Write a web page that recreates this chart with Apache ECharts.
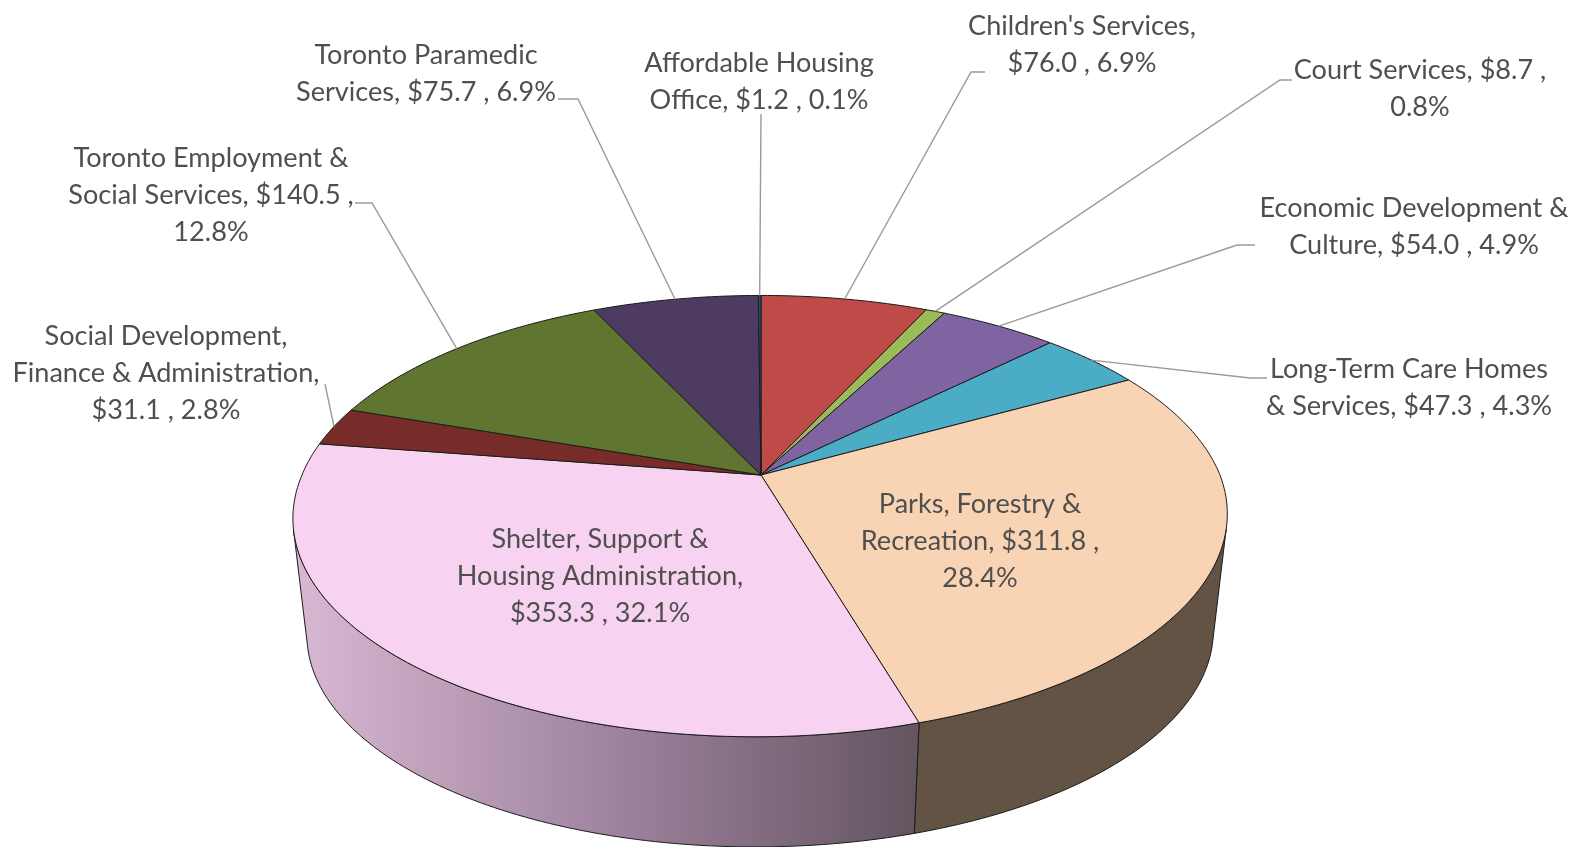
<!DOCTYPE html>
<html lang="en">
<head>
    <meta charset="UTF-8">
    <title>Toronto budget pie</title>
    <script src="https://cdn.jsdelivr.net/npm/echarts@6/dist/echarts.min.js"></script>
    <style>
        html, body { margin: 0; padding: 0; background: #fff; }
        /* the source picture is a soft upscaled screenshot */
        #chart { width: 1577px; height: 847px; filter: blur(0.6px); }
    </style>
</head>
<body>
    <div id="chart"></div>
    <script>
        // data, clockwise from 12 o'clock
        const categories = ["Children's Services", 'Court Services', 'Economic Development & Culture',
            'Long-Term Care Homes & Services', 'Parks, Forestry & Recreation', 'Shelter, Support & Housing Administration',
            'Social Development, Finance & Administration', 'Toronto Employment & Social Services',
            'Toronto Paramedic Services', 'Affordable Housing Office'];
        const values = [76.0, 8.7, 54.0, 47.3, 311.8, 353.3, 31.1, 140.5, 75.7, 1.2];
        const labelTexts = [
            "Children's Services,\n$76.0 , 6.9%",
            'Court Services, $8.7 ,\n0.8%',
            'Economic Development &\nCulture, $54.0 , 4.9%',
            'Long-Term Care Homes\n& Services, $47.3 , 4.3%',
            'Parks, Forestry &\nRecreation, $311.8 ,\n28.4%',
            'Shelter, Support &\nHousing Administration,\n$353.3 , 32.1%',
            'Social Development,\nFinance & Administration,\n$31.1 , 2.8%',
            'Toronto Employment &\nSocial Services, $140.5 ,\n12.8%',
            'Toronto Paramedic\nServices, $75.7 , 6.9%',
            'Affordable Housing\nOffice, $1.2 , 0.1%'
        ];
        const colors = ['#BE4B48', '#9BBB59', '#8064A2', '#4BACC6', '#F8D4B5', '#F8D3F1', '#772C2A', '#5F7530', '#4D3B62', '#2C4D75'];

        // label centres and the elbow points of the leader lines
        const labelPos = [[1082, 44.5], [1420, 89], [1414, 226.5], [1409, 387.5], [980, 541], [600, 576], [166, 373.5], [211, 195.5], [426, 73.5], [759, 81.5]];
        const leaderPos = [
            [[985, 72], [971, 72]],
            [[1292, 80], [1280, 80]],
            [[1255, 245], [1237, 245]],
            [[1267, 378], [1250, 378]],
            null,
            null,
            [[325, 384]],
            [[355, 203], [372, 203]],
            [[558, 99], [578, 99]],
            [[761, 114]]
        ];

        // projection of the tilted pie: the far rim is closer to the apex than the near rim
        const cx = 761, cy = 475, persp = 0.1863, ax = 459, ay = 213;
        const depth = 118, bottomScale = 0.97;
        const nearShear = 0.022;             // front of the pie leans a little to the left
        const sideFrom = 104, sideTo = 256;  // part of the wall that can be seen

        const total = values.reduce((a, b) => a + b, 0);
        const startAngles = [];
        let run = 0;
        values.forEach(v => { startAngles.push(run / total * 360); run += v; });

        function rim(deg, bottom) {
            const t = deg * Math.PI / 180;
            const u = Math.sin(t), v = -Math.cos(t), w = 1 - persp * v;
            const y = ay * v / w;
            const x = ax * u / w - nearShear * Math.max(y, 0);
            return bottom ? [cx + bottomScale * x, cy + depth + bottomScale * y] : [cx + x, cy + y];
        }
        function arc(from, to, bottom) {
            const pts = [];
            const n = Math.max(2, Math.ceil(Math.abs(to - from)));
            for (let i = 0; i <= n; i++) pts.push(rim(from + (to - from) * i / n, bottom));
            return pts;
        }

        function renderSide(params, api) {
            const from = Math.max(startAngles[params.dataIndex], sideFrom);
            const to = Math.min(startAngles[params.dataIndex] + api.value(0) / total * 360, sideTo);
            if (to <= from) return null;
            // shelter wall is shaded left to right, parks wall is flat
            const fill = params.dataIndex === 5
                ? new echarts.graphic.LinearGradient(1, 0, 0, 0, [
                    { offset: 0, color: '#63545F' }, { offset: 0.5, color: '#A084A0' }, { offset: 1, color: '#D8B8D2' }])
                : '#625345';
            return {
                type: 'polygon',
                shape: { points: arc(from, to, false).concat(arc(to, from, true)) },
                style: { fill: fill, stroke: '#1c1c1c', lineWidth: 1 }
            };
        }

        function renderTop(params, api) {
            const from = startAngles[params.dataIndex];
            const to = from + api.value(0) / total * 360;
            return {
                type: 'polygon',
                shape: { points: [[cx, cy]].concat(arc(from, to, false)) },
                style: { fill: colors[params.dataIndex], stroke: '#1c1c1c', lineWidth: 1 }
            };
        }

        function renderLabel(params, api) {
            const i = params.dataIndex;
            const children = [];
            if (leaderPos[i]) {
                const mid = startAngles[i] + api.value(0) / total * 180;
                children.push({
                    type: 'polyline',
                    shape: { points: leaderPos[i].concat([rim(mid, false)]) },
                    style: { fill: null, stroke: '#9a9a9a', lineWidth: 1.4 }
                });
            }
            children.push({
                type: 'text',
                style: {
                    x: labelPos[i][0], y: labelPos[i][1], text: labelTexts[i],
                    fontFamily: 'Lato', fontSize: 27.1, lineHeight: 36.9,
                    align: 'center', verticalAlign: 'middle', fill: '#4f4f4f'
                }
            });
            return { type: 'group', children: children };
        }

        const data = values.map((v, i) => ({ name: categories[i], value: [v] }));
        const chart = echarts.init(document.getElementById('chart'));
        chart.setOption({
            backgroundColor: '#fff',
            animation: false,
            series: [
                { type: 'custom', coordinateSystem: 'none', data: data, renderItem: renderSide, z: 1 },
                { type: 'custom', coordinateSystem: 'none', data: data, renderItem: renderTop, z: 2 },
                { type: 'custom', coordinateSystem: 'none', data: data, renderItem: renderLabel, z: 3 }
            ]
        });
    </script>
</body>
</html>
